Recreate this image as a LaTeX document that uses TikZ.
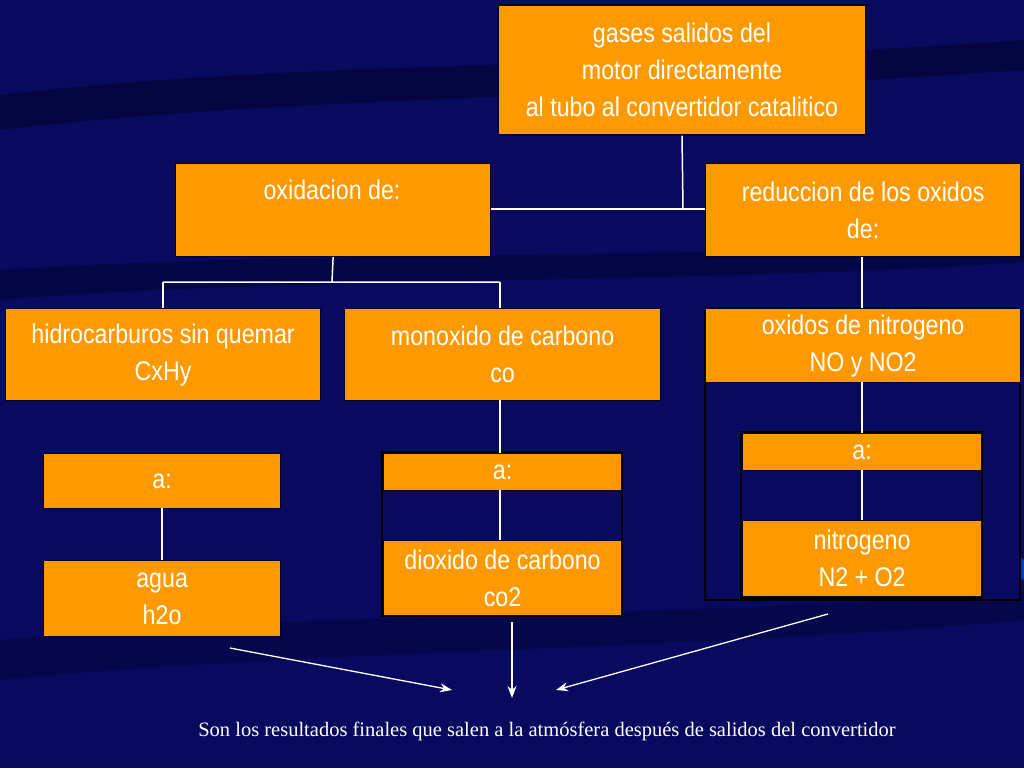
\documentclass[tikz,border=0pt]{standalone}
\usepackage{fontspec}
\setmainfont{Liberation Sans}[FakeStretch=0.86]
\newfontfamily\tnr{Liberation Serif}
\usetikzlibrary{arrows.meta}
\definecolor{bg}{RGB}{8,10,95}
\definecolor{dk}{RGB}{3,4,45}
\definecolor{org}{RGB}{255,153,0}
\begin{document}
\begin{tikzpicture}[x=1pt,y=-1pt,
  box/.style={draw=dk,line width=1.2pt,fill=org,text=white,align=center,inner sep=0pt,
    font=\fontsize{27}{37}\selectfont},
  grp/.style={draw=black,line width=1.5pt},
  ln/.style={draw=white,line width=1.5pt},
  arr/.style={draw=white,line width=1.3pt,-{Stealth[length=12pt,width=9pt]}}]
\useasboundingbox (0,0) rectangle (1024,768);
\fill[bg] (0,0) rectangle (1024,768);
\fill[dk,opacity=0.6] (0,95) .. controls (300,60) and (600,70) .. (1024,40) -- (1024,70) .. controls (600,100) and (300,95) .. (0,130) -- cycle;
\fill[dk,opacity=0.5] (0,270) .. controls (300,250) and (700,260) .. (1024,240) -- (1024,262) .. controls (700,285) and (300,275) .. (0,300) -- cycle;
\fill[dk,opacity=0.4] (0,640) .. controls (300,610) and (700,620) .. (1024,590) -- (1024,620) .. controls (700,650) and (300,650) .. (0,680) -- cycle;
\fill[blue!70!cyan,opacity=0.7] (988,537) -- (1024,560) -- (1024,580) -- (988,555) -- cycle;
% group outlines
\draw[grp,fill=bg] (705,308) rectangle (1020,600);
\draw[grp,fill=bg] (741,432) rectangle (982,598);
\draw[grp,fill=bg] (382,452) rectangle (622,616);
% connectors
\coordinate (j1) at (683,209);
\node[box,minimum width=368,minimum height=130] (top) at (682,70) {gases salidos del\\motor directamente\\al tubo al convertidor catalitico};
\node[box,minimum width=315,minimum height=93,anchor=north west] (ox) at (175,163) {};
\node[font=\fontsize{27}{37}\selectfont,text=white] at (332,190) {oxidacion de:};
\node[box,minimum width=315,minimum height=93,anchor=north west] (red) at (705,163) {reduccion de los oxidos\\de:};
\draw[ln] (top.south) -- (j1);
\draw[ln] (ox.east |- j1) -- (red.west |- j1);
\node[box,minimum width=315,minimum height=92,anchor=north west] (hc) at (5,308) {hidrocarburos sin quemar\\CxHy};
\node[box,minimum width=316,minimum height=92,anchor=north west] (mo) at (344,308) {monoxido de carbono\\co};
\draw[ln] (ox.south) -- (332,282) (163,282) -- (500,282);
\draw[ln] (163,282) -- (163,308) (500,282) -- (500,308);
\node[box,minimum width=315,minimum height=74,anchor=north west] (no) at (705,308) {oxidos de nitrogeno\\NO y NO2};
\draw[ln] (red.south -| 862,0) -- (862,308);
\node[box,minimum width=239,minimum height=37,anchor=north west] (an) at (742,433) {a:};
\node[box,minimum width=239,minimum height=76,anchor=north west] (ni) at (742,520) {nitrogeno\\N2 + O2};
\draw[ln] (862,382) -- (862,433) (862,470) -- (862,520);
\node[box,minimum width=237,minimum height=55,anchor=north west] (aa) at (43,453) {a:};
\node[box,minimum width=237,minimum height=76,anchor=north west] (ag) at (43,560) {agua\\h2o};
\draw[ln] (162,508) -- (162,560);
\node[box,minimum width=238,minimum height=37,anchor=north west] (ac) at (383,453) {a:};
\node[box,minimum width=238,minimum height=75,anchor=north west] (di) at (383,540) {dioxido de carbono\\co2};
\draw[ln] (500,400) -- (500,453) (500,490) -- (500,540);
% arrows
\coordinate (e1) at (452,690);
\coordinate (e2) at (512,698);
\coordinate (e3) at (556,690);
\draw[arr] (230,648) -- (e1);
\draw[arr] (512,622) -- (e2);
\draw[arr] (828,614) -- (e3);
\node[text=white,font=\tnr\fontsize{20.5}{24}\selectfont] (cap) at (547,731) {Son los resultados finales que salen a la atmósfera después de salidos del convertidor};
\end{tikzpicture}
\end{document}
